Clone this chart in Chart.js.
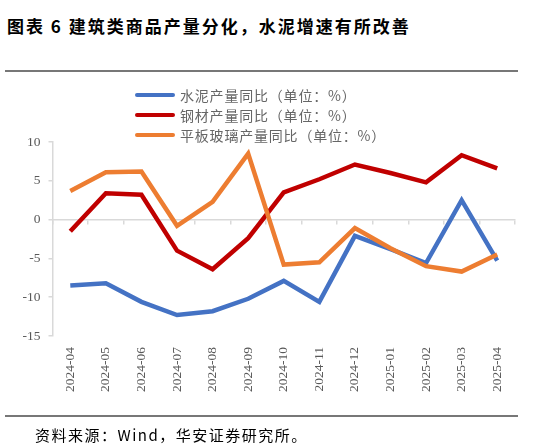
<!DOCTYPE html>
<html lang="zh">
<head>
<meta charset="utf-8">
<title>建筑类商品产量分化</title>
<script src="https://cdn.jsdelivr.net/npm/chart.js@4.4.1/dist/chart.umd.min.js"></script>
<style>
  body { margin: 0; background: #fff; }
  #page { position: relative; width: 551px; height: 447px; overflow: hidden; }
  #chartBox { position: absolute; left: 0; top: 0; width: 551px; height: 447px; }
  .title {
    position: absolute; left: 7px; top: 13px; letter-spacing: 2px;
    font: bold 17px "Noto Sans CJK SC", sans-serif; color: #000; white-space: nowrap;
  }
  .rule { position: absolute; left: 5px; width: 513px; height: 1.5px; background: #777; }
  .source {
    position: absolute; left: 35px; top: 424px; letter-spacing: 1.5px;
    font: 15px "Noto Sans CJK SC", sans-serif; color: #000; white-space: nowrap;
  }
  #legend { position: absolute; left: 135px; top: 85px; }
  .legend-row { display: flex; align-items: center; height: 20px; }
  .legend-line { width: 40px; height: 4.5px; border-radius: 3px; margin-right: 5px; }
  .legend-text { font: 14px "Noto Sans CJK SC", sans-serif; color: #666; letter-spacing: 0.8px; white-space: nowrap; }
</style>
</head>
<body>
<div id="page">
  <div class="title">图表 6 建筑类商品产量分化，水泥增速有所改善</div>
  <div class="rule" style="top:70px"></div>
  <div id="chartBox"><canvas id="outputChart"></canvas></div>
  <div id="legend"></div>
  <div class="rule" style="top:415px"></div>
  <div class="source">资料来源：Wind，华安证券研究所。</div>
</div>
<script>
const categories = [
  "2024-04", "2024-05", "2024-06", "2024-07", "2024-08", "2024-09", "2024-10",
  "2024-11", "2024-12", "2025-01", "2025-02", "2025-03", "2025-04"
];
const cementYoY = [-8.5, -8.2, -10.6, -12.3, -11.8, -10.2, -7.9, -10.6, -2.1, -3.8, -5.6, 2.5, -5.3];
const steelYoY = [-1.5, 3.4, 3.2, -4.0, -6.4, -2.4, 3.5, 5.2, 7.1, 6.0, 4.8, 8.3, 6.6];
const glassYoY = [3.7, 6.1, 6.2, -0.8, 2.3, 8.5, -5.8, -5.5, -1.1, -3.7, -6.0, -6.7, -4.5];
const yTicks = [-15, -10, -5, 0, 5, 10];

const axisGrey = "#d9d9d9";
const labelGrey = "#595959";
const serifFont = "'Liberation Serif', 'DejaVu Serif', serif";

// legend drawn as html so each entry gets its own row
const htmlLegend = {
  id: "htmlLegend",
  afterUpdate(chart) {
    const box = document.getElementById("legend");
    box.innerHTML = "";
    chart.data.datasets.forEach((ds) => {
      const row = document.createElement("div");
      row.className = "legend-row";
      const line = document.createElement("span");
      line.className = "legend-line";
      line.style.background = ds.borderColor;
      const text = document.createElement("span");
      text.className = "legend-text";
      text.textContent = ds.label;
      row.appendChild(line);
      row.appendChild(text);
      box.appendChild(row);
    });
  }
};

function lineSet(label, data, color, order) {
  return {
    label,
    data,
    borderColor: color,
    backgroundColor: color,
    borderWidth: 4.5,
    pointRadius: 0,
    tension: 0,
    order
  };
}

new Chart(document.getElementById("outputChart"), {
  type: "line",
  data: {
    labels: categories,
    datasets: [
      lineSet("水泥产量同比（单位：%）", cementYoY, "#4472C4", 2),
      lineSet("钢材产量同比（单位：%）", steelYoY, "#C00000", 1),
      lineSet("平板玻璃产量同比（单位：%）", glassYoY, "#ED7D31", 0)
    ]
  },
  options: {
    responsive: true,
    maintainAspectRatio: false,
    animation: false,
    layout: {
      padding: { left: 0, top: 142, right: 36, bottom: 51 }
    },
    plugins: {
      legend: { display: false },
      tooltip: { enabled: false }
    },
    scales: {
      x: {
        type: "category",
        position: "bottom",
        offset: true,
        grid: { display: false, drawTicks: false },
        border: { display: false },
        ticks: {
          autoSkip: false,
          maxRotation: 90,
          minRotation: 90,
          padding: 11,
          color: labelGrey,
          font: { family: serifFont, size: 13.5 }
        },
        afterFit(scale) {
          scale.height = 60;
        }
      },
      x2: {
        type: "category",
        axis: "x",
        position: { y: 0 },
        offset: true,
        grid: {
          offset: true,
          drawOnChartArea: false,
          drawTicks: true,
          tickLength: 4,
          color: axisGrey,
          lineWidth: 1.5
        },
        border: { display: true, color: axisGrey, width: 1.5 },
        ticks: { display: false }
      },
      y: {
        min: -15,
        max: 10,
        afterBuildTicks(scale) {
          scale.ticks = yTicks.map((v) => ({ value: v }));
        },
        grid: {
          drawOnChartArea: false,
          drawTicks: true,
          tickLength: 4,
          color: axisGrey,
          lineWidth: 1.5
        },
        border: { display: true, color: axisGrey, width: 1.5 },
        ticks: {
          padding: 8,
          color: labelGrey,
          font: { family: serifFont, size: 13.5 }
        },
        afterFit(scale) {
          scale.width = 52.5;
        }
      }
    }
  },
  plugins: [htmlLegend]
});
</script>
</body>
</html>
